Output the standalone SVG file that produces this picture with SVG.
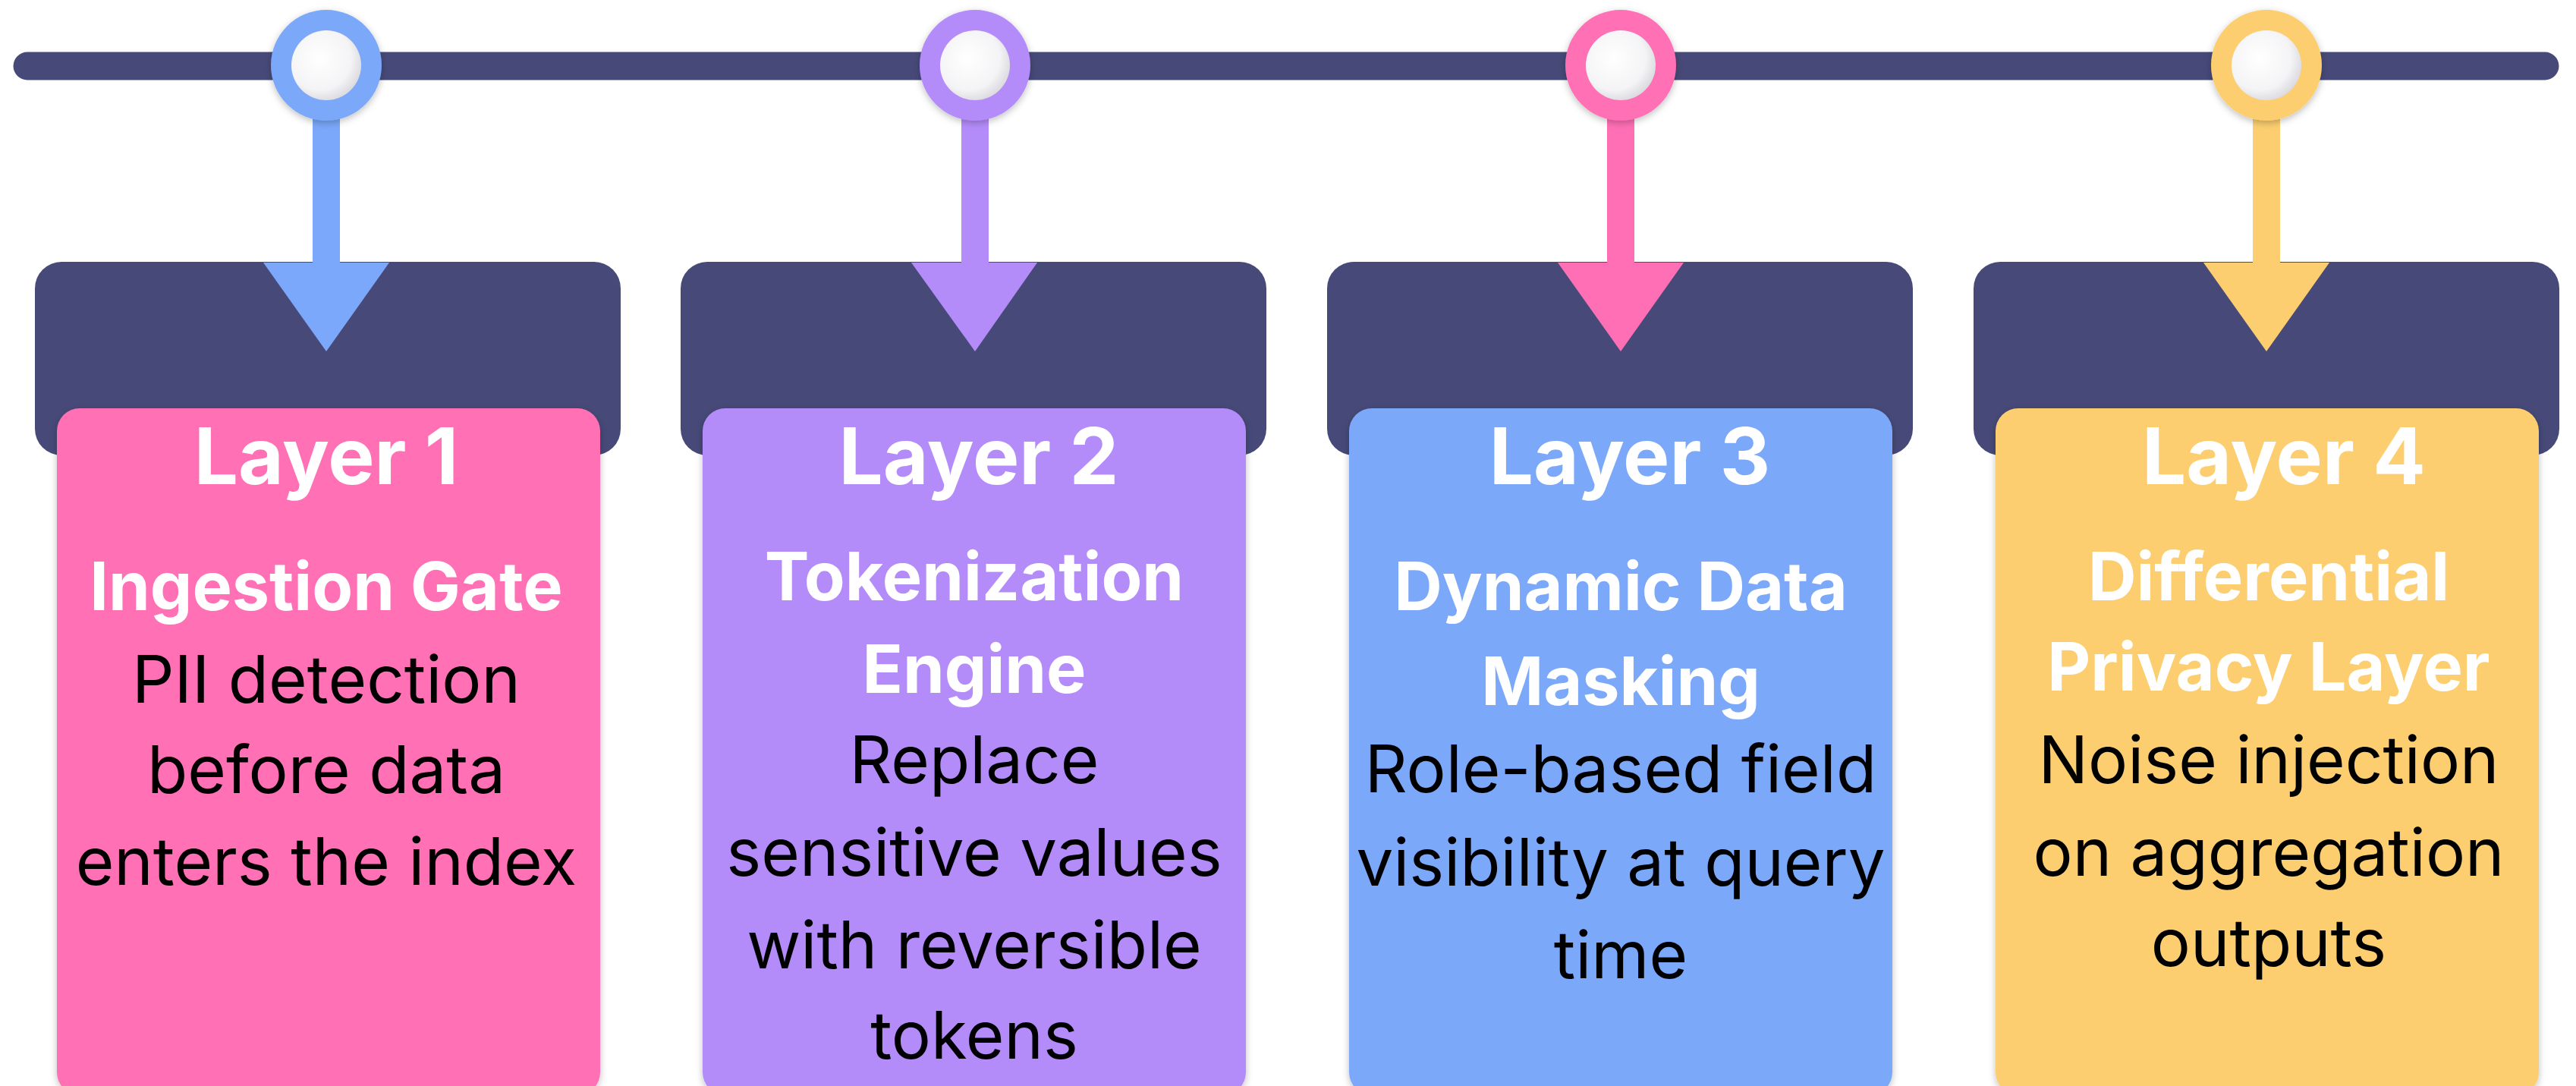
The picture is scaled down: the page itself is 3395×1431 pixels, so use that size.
<svg xmlns="http://www.w3.org/2000/svg" width="3395" height="1431" viewBox="0 0 3395 1431">
  <defs>
    <style>
      .bg { fill: #ffffff; }
      .rail { stroke: #474A78; stroke-width: 37; stroke-linecap: round; fill: none; }
      .header { fill: #474A78; }
      .card { filter: url(#shadow); }
      .title { font-family: "Inter", "DejaVu Sans", sans-serif; font-weight: 700; fill: #ffffff; text-anchor: middle; }
      .layer { font-size: 103px; }
      .sub { font-size: 88px; }
      .body { font-family: "Inter", "DejaVu Sans", sans-serif; font-weight: 400; font-size: 87px; fill: #000000; text-anchor: middle; }
      .knob { fill: url(#knobGrad); }
      .ring { filter: url(#shadow); }
    </style>
    <radialGradient id="knobGrad" cx="40%" cy="40%" r="65%">
      <stop offset="0%" stop-color="#ffffff"/>
      <stop offset="70%" stop-color="#f4f4f6"/>
      <stop offset="100%" stop-color="#d8d8de"/>
    </radialGradient>
    <filter id="shadow" x="-10%" y="-10%" width="120%" height="120%">
      <feDropShadow dx="0" dy="3" stdDeviation="5" flood-color="#000000" flood-opacity="0.25"/>
    </filter>
  </defs>

  <rect class="bg" x="0" y="0" width="3395" height="1431"/>

  <g id="timeline">
    <line class="rail" x1="36" y1="87" x2="3354" y2="87"/>
  </g>

  <g id="node-1">
    <rect class="header" x="46" y="345" width="772" height="255" rx="35"/>
    <rect class="card" x="75" y="538" width="716" height="905" rx="30" fill="#FF6FB5"/>
    <text class="title layer" x="430" y="638">Layer 1</text>
    <text class="title sub" x="430" y="804">Ingestion Gate</text>
    <text class="body" x="430" y="926">PII detection</text>
    <text class="body" x="430" y="1045">before data</text>
    <text class="body" x="430" y="1166">enters the index</text>
  </g>

  <g id="node-2">
    <rect class="header" x="897" y="345" width="772" height="255" rx="35"/>
    <rect class="card" x="926" y="538" width="716" height="905" rx="30" fill="#B48CFA"/>
    <text class="title layer" x="1290" y="638">Layer 2</text>
    <text class="title sub" x="1284" y="791">Tokenization</text>
    <text class="title sub" x="1284" y="913">Engine</text>
    <text class="body" x="1284" y="1032">Replace</text>
    <text class="body" x="1284" y="1154">sensitive values</text>
    <text class="body" x="1284" y="1276">with reversible</text>
    <text class="body" x="1284" y="1395">tokens</text>
  </g>

  <g id="node-3">
    <rect class="header" x="1749" y="345" width="772" height="255" rx="35"/>
    <rect class="card" x="1778" y="538" width="716" height="905" rx="30" fill="#7BA8FA"/>
    <text class="title layer" x="2148" y="638">Layer 3</text>
    <text class="title sub" x="2136" y="804">Dynamic Data</text>
    <text class="title sub" x="2136" y="929">Masking</text>
    <text class="body" x="2136" y="1044">Role-based field</text>
    <text class="body" x="2136" y="1167">visibility at query</text>
    <text class="body" x="2136" y="1289">time</text>
  </g>

  <g id="node-4">
    <rect class="header" x="2601" y="345" width="772" height="255" rx="35"/>
    <rect class="card" x="2630" y="538" width="716" height="905" rx="30" fill="#FCCE70"/>
    <text class="title layer" x="3010" y="638">Layer 4</text>
    <text class="title sub" x="2990" y="791">Differential</text>
    <text class="title sub" x="2990" y="910">Privacy Layer</text>
    <text class="body" x="2990" y="1032">Noise injection</text>
    <text class="body" x="2990" y="1154">on aggregation</text>
    <text class="body" x="2990" y="1273">outputs</text>
  </g>

  <g id="connectors">
    <g id="conn-1" fill="#7BA8FA">
      <rect x="412" y="140" width="36" height="212"/>
      <polygon points="347,346 513,346 430,463"/>
      <circle class="ring" cx="430" cy="86" r="73"/>
      <circle class="knob" cx="430" cy="86" r="46"/>
    </g>
    <g id="conn-2" fill="#B48CFA">
      <rect x="1267" y="140" width="36" height="212"/>
      <polygon points="1201,346 1367,346 1285,463"/>
      <circle class="ring" cx="1285" cy="86" r="73"/>
      <circle class="knob" cx="1285" cy="86" r="46"/>
    </g>
    <g id="conn-3" fill="#FF6FB5">
      <rect x="2118" y="140" width="36" height="212"/>
      <polygon points="2053,346 2219,346 2136,463"/>
      <circle class="ring" cx="2136" cy="86" r="73"/>
      <circle class="knob" cx="2136" cy="86" r="46"/>
    </g>
    <g id="conn-4" fill="#FCCE70">
      <rect x="2969" y="140" width="36" height="212"/>
      <polygon points="2904,346 3070,346 2987,463"/>
      <circle class="ring" cx="2987" cy="86" r="73"/>
      <circle class="knob" cx="2987" cy="86" r="46"/>
    </g>
  </g>
</svg>
